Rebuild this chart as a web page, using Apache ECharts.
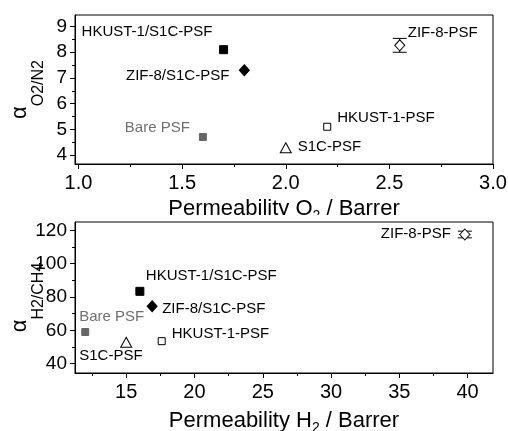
<!DOCTYPE html>
<html>
<head>
<meta charset="utf-8">
<script src="https://cdn.jsdelivr.net/npm/echarts@6/dist/echarts.min.js"></script>
<style>html,body{margin:0;padding:0;background:#fff;}#c{width:508px;height:431px;}</style>
</head>
<body>
<div id="c"></div>
<script>
// ---- data ----
const samples = ['HKUST-1/S1C-PSF', 'ZIF-8/S1C-PSF', 'Bare PSF', 'ZIF-8-PSF', 'HKUST-1-PSF', 'S1C-PSF'];
const o2Permeability = [1.70, 1.80, 1.60, 2.55, 2.20, 2.00];
const o2n2Selectivity = [8.10, 7.30, 4.70, 8.27, 5.10, 4.28];
const o2n2Error = [0, 0, 0, 0.27, 0, 0];
const h2Permeability = [16.0, 16.9, 12.0, 39.8, 17.6, 15.0];
const h2PermeabilityError = [0, 0, 0, 0.4, 0, 0];
const h2ch4Selectivity = [83.4, 74.5, 59.0, 117.5, 53.5, 52.8];
const h2ch4Error = [0, 0, 0, 2, 0, 0];

const o2Ticks = [1.0, 1.5, 2.0, 2.5, 3.0];
const o2MinorTicks = [1.25, 1.75, 2.25, 2.75];
const o2n2Ticks = [4, 5, 6, 7, 8, 9];
const o2n2MinorTicks = [4.5, 5.5, 6.5, 7.5, 8.5];
const h2Ticks = [15, 20, 25, 30, 35, 40];
const h2MinorTicks = [12.5, 17.5, 22.5, 27.5, 32.5, 37.5];
const h2ch4Ticks = [40, 60, 80, 100, 120];
const h2ch4MinorTicks = [50, 70, 90, 110];

// ---- styles / layout (not data) ----
const FONT = "'Liberation Sans', Arial, sans-serif";
const markerStyle = {
  'HKUST-1/S1C-PSF': { symbol: 'rect', size: [8, 8], fill: '#000', border: '#000' },
  'ZIF-8/S1C-PSF': { symbol: 'diamond', size: [10, 11], fill: '#000', border: '#000' },
  'Bare PSF': { symbol: 'rect', size: [7, 7], fill: '#666', border: '#666', text: '#707070' },
  'ZIF-8-PSF': { symbol: 'diamond', size: [10, 11], fill: '#fff', border: '#000' },
  'HKUST-1-PSF': { symbol: 'rect', size: [7, 7], fill: '#fff', border: '#000' },
  'S1C-PSF': { symbol: 'triangle', size: [11, 10], fill: '#fff', border: '#000' }
};
const topLabelPos = {
  'HKUST-1/S1C-PSF': ['left', -142, -18],
  'ZIF-8/S1C-PSF': ['right', -15, 6],
  'Bare PSF': ['right', -13, -9],
  'ZIF-8-PSF': ['left', 8, -12],
  'HKUST-1-PSF': ['left', 10, -9],
  'S1C-PSF': ['left', 12, -1]
};
const botLabelPos = {
  'HKUST-1/S1C-PSF': ['left', 6, -15],
  'ZIF-8/S1C-PSF': ['left', 10, 3],
  'Bare PSF': ['left', -6, -15],
  'ZIF-8-PSF': ['right', -14, -1],
  'HKUST-1-PSF': ['left', 10, -7],
  'S1C-PSF': ['left', -47, 14]
};

const chart = echarts.init(document.getElementById('c'), null, { renderer: 'canvas' });

function valueAxis(gridIndex, pos, min, max, ticks, fmt, fontSize, margin, name, nameGap) {
  return {
    type: 'value', gridIndex, position: pos, min, max,
    axisLine: { show: true, onZero: false, lineStyle: { color: '#000', width: 1 } },
    axisTick: { show: true, inside: false, length: 5, customValues: ticks, lineStyle: { color: '#000' } },
    axisLabel: { show: true, customValues: ticks, formatter: fmt, fontSize, margin, color: '#000', fontFamily: FONT },
    splitLine: { show: false },
    name, nameLocation: 'middle', nameGap, nameMoveOverlap: false,
    nameTextStyle: { fontFamily: FONT, color: '#000' }
  };
}
function minorAxis(gridIndex, pos, min, max, ticks) {
  return {
    type: 'value', gridIndex, position: pos, offset: 0, min, max,
    axisLine: { show: false, onZero: false },
    axisTick: { show: true, inside: false, length: 3, customValues: ticks, lineStyle: { color: '#000' } },
    axisLabel: { show: false },
    splitLine: { show: false }
  };
}

const xName = (gas) => `{t|Permeability ${gas}}{s|2}{t| / Barrer}`;
const xRich = {
  t: { fontSize: 22, lineHeight: 25, verticalAlign: 'top', fontFamily: FONT, color: '#000' },
  s: { fontSize: 14, lineHeight: 17, verticalAlign: 'bottom', fontFamily: FONT, color: '#000' }
};
const yRich = {
  a: { fontSize: 22, lineHeight: 24, verticalAlign: 'top', fontFamily: FONT, color: '#000' },
  s: { fontSize: 16, padding: [22, 0, 0, 0], verticalAlign: 'top', fontFamily: FONT, color: '#000' }
};

const xAxes = [
  valueAxis(0, 'bottom', 0.983, 3.0, o2Ticks, v => v.toFixed(1), 20, 9, xName('O'), 34),
  minorAxis(0, 'bottom', 0.983, 3.0, o2MinorTicks),
  valueAxis(1, 'bottom', 11.25, 41.86, h2Ticks, v => String(v), 20, 9, xName('H'), 37),
  minorAxis(1, 'bottom', 11.25, 41.86, h2MinorTicks)
];
xAxes[0].nameTextStyle.rich = xRich;
xAxes[2].nameTextStyle.rich = xRich;

const yAxes = [
  valueAxis(0, 'left', 3.65, 9.45, o2n2Ticks, v => String(v), 19, 8, '{a|α}{s|O2/N2}', 28),
  minorAxis(0, 'left', 3.65, 9.45, o2n2MinorTicks),
  valueAxis(1, 'left', 34.4, 125, h2ch4Ticks, v => String(v), 19, 8, '{a|α}{s|H2/CH4}', 28),
  minorAxis(1, 'left', 34.4, 125, h2ch4MinorTicks)
];
yAxes[0].nameTextStyle.rich = yRich;
yAxes[2].nameTextStyle.rich = yRich;

function errorSeries(xAxisIndex, yAxisIndex, xs, ys, yerr, xerr) {
  const data = [];
  xs.forEach((x, i) => { if (yerr[i] > 0 || (xerr && xerr[i] > 0)) data.push([x, ys[i], yerr[i], xerr ? xerr[i] : 0]); });
  return {
    type: 'custom', xAxisIndex, yAxisIndex, z: 1, silent: true,
    renderItem: function (params, api) {
      const x = api.value(0), y = api.value(1), e = api.value(2), xe = api.value(3);
      const top = api.coord([x, y + e]);
      const bot = api.coord([x, y - e]);
      const cap = 7;
      const st = { stroke: '#000', lineWidth: 1 };
      const children = [
        { type: 'line', shape: { x1: top[0], y1: top[1], x2: bot[0], y2: bot[1] }, style: st },
        { type: 'line', shape: { x1: top[0] - cap, y1: top[1], x2: top[0] + cap, y2: top[1] }, style: st },
        { type: 'line', shape: { x1: bot[0] - cap, y1: bot[1], x2: bot[0] + cap, y2: bot[1] }, style: st }
      ];
      if (xe > 0) {
        const l = api.coord([x - xe, y]);
        const r = api.coord([x + xe, y]);
        children.push({ type: 'line', shape: { x1: l[0], y1: l[1], x2: r[0], y2: r[1] }, style: st });
      }
      return { type: 'group', children };
    },
    data
  };
}

function pointSeries(xAxisIndex, yAxisIndex, xs, ys, labelPos) {
  return samples.map((name, i) => {
    const m = markerStyle[name];
    const lp = labelPos[name];
    return {
      type: 'scatter', name, xAxisIndex, yAxisIndex, z: 3,
      symbol: m.symbol, symbolSize: m.size,
      itemStyle: { color: m.fill, borderColor: m.border, borderWidth: 1, opacity: 1 },
      label: {
        show: true, position: 'inside', align: lp[0], verticalAlign: 'middle',
        offset: [lp[1], lp[2]], formatter: name,
        fontSize: 15, fontFamily: FONT, color: m.text || '#000'
      },
      emphasis: { disabled: true },
      data: [[xs[i], ys[i]]]
    };
  });
}

const gridBase = { left: 75, right: 15, show: true, borderColor: '#000', borderWidth: 1, backgroundColor: 'transparent', containLabel: false, outerBoundsMode: 'none' };
const option = {
  animation: false,
  backgroundColor: '#fff',
  grid: [
    Object.assign({ top: 15, height: 149 }, gridBase),
    Object.assign({ top: 222, height: 151 }, gridBase)
  ],
  xAxis: xAxes,
  yAxis: yAxes,
  graphic: [
    { type: 'rect', z: 100, shape: { x: 0, y: 215, width: 508, height: 6 }, style: { fill: '#fff' }, silent: true }
  ],
  series: [
    errorSeries(0, 0, o2Permeability, o2n2Selectivity, o2n2Error, null),
    errorSeries(2, 2, h2Permeability, h2ch4Selectivity, h2ch4Error, h2PermeabilityError)
  ].concat(pointSeries(0, 0, o2Permeability, o2n2Selectivity, topLabelPos))
   .concat(pointSeries(2, 2, h2Permeability, h2ch4Selectivity, botLabelPos))
};
chart.setOption(option);
</script>
</body>
</html>
